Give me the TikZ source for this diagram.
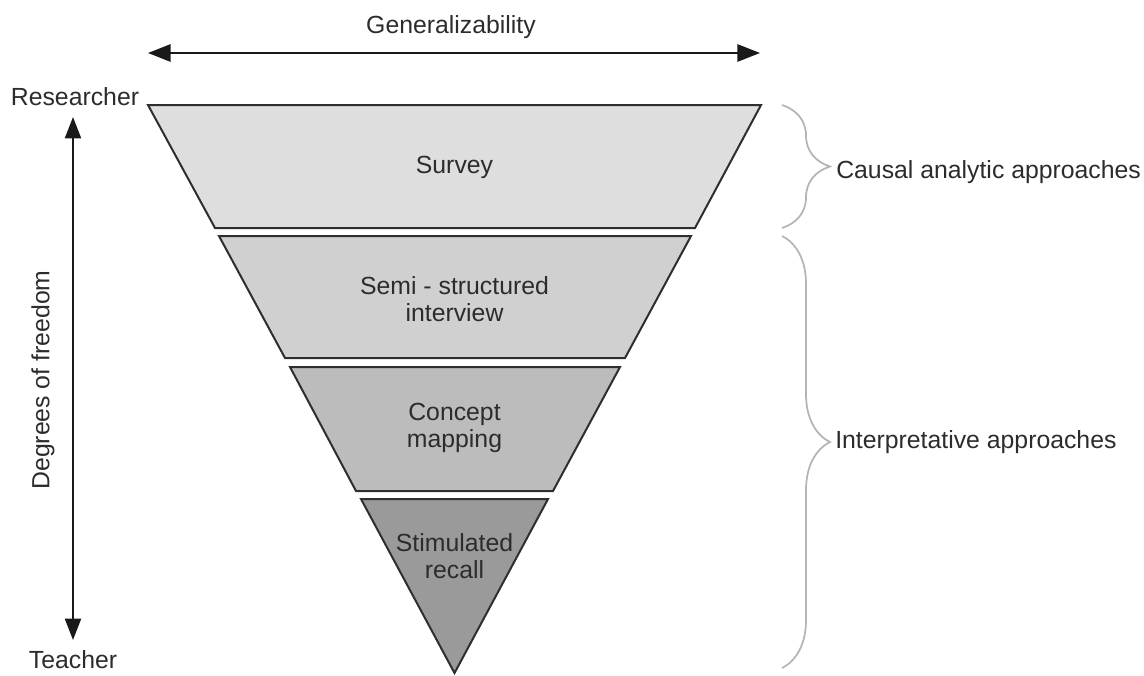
\documentclass[tikz,border=0pt]{standalone}
\usepackage{fontspec}
\setmainfont{Liberation Sans}
\usetikzlibrary{arrows.meta,decorations.pathreplacing}
\definecolor{txt}{HTML}{2C2C2C}
\definecolor{edge}{HTML}{2E2E2E}
\definecolor{fillA}{HTML}{DEDEDE}
\definecolor{fillB}{HTML}{D0D0D0}
\definecolor{fillC}{HTML}{BCBCBC}
\definecolor{fillD}{HTML}{9A9A9A}
\definecolor{bracecol}{HTML}{B4B4B4}
\tikzset{
  lbl/.style={font=\fontsize{18.6}{20.5}\selectfont, text=txt, align=center, inner sep=0pt},
  layer/.style={draw=edge, line width=1.5pt, line join=miter},
  axis/.style={draw=black!90, line width=1.5pt},
  bracestyle/.style={draw=bracecol, line width=1.3pt, decorate, decoration={brace, amplitude=36pt}},
}
\begin{document}
\begin{tikzpicture}[x=0.75pt, y=-0.75pt]
\useasboundingbox (0,0) rectangle (1144,675);
% layers
\draw[layer, fill=fillA] (148,105) -- (761,105) -- (695,228) -- (215,228) -- cycle;
\draw[layer, fill=fillB] (219,236) -- (691,236) -- (625,358) -- (285,358) -- cycle;
\draw[layer, fill=fillC] (290,367) -- (620,367) -- (553,491) -- (356,491) -- cycle;
\draw[layer, fill=fillD] (361,499) -- (548,499) -- (454.5,673) -- cycle;
\node[lbl] (survey) at (454.5,167) {Survey};
\node[lbl] (semi) at (454.5,299) {Semi - structured\\interview};
\node[lbl] (concept) at (454.5,428) {Concept\\mapping};
\node[lbl] (stim) at (454.5,556) {Stimulated\\recall};
% top axis
\node[lbl] (gen) at (451,27) {Generalizability};
\coordinate (gl) at (148,53);
\coordinate (gr) at (760,53);
\draw[axis, {Triangle[length=17pt,width=13pt]}-{Triangle[length=17pt,width=13pt]}] (gl) -- (gr);
% left axis
\node[lbl] (res) at (75,97) {Researcher};
\node[lbl] (tea) at (73,660) {Teacher};
\node[lbl, rotate=90] (dof) at (43,380) {Degrees of freedom};
\coordinate (vt) at (73,117);
\coordinate (vb) at (73,640);
\draw[axis, {Triangle[length=16pt,width=12pt]}-{Triangle[length=16pt,width=12pt]}] (vt) -- (vb);
% braces
\coordinate (b1t) at (782,105);
\coordinate (b1b) at (782,228);
\coordinate (b2t) at (782,236);
\coordinate (b2b) at (782,668);
\draw[bracestyle] (b1t) -- (b1b);
\draw[bracestyle, decoration={aspect=0.477}] (b2t) -- (b2b);
\node[lbl, anchor=west] (causal) at (836,172) {Causal analytic approaches};
\node[lbl, anchor=west] (interp) at (835,442) {Interpretative approaches};
\end{tikzpicture}
\end{document}
